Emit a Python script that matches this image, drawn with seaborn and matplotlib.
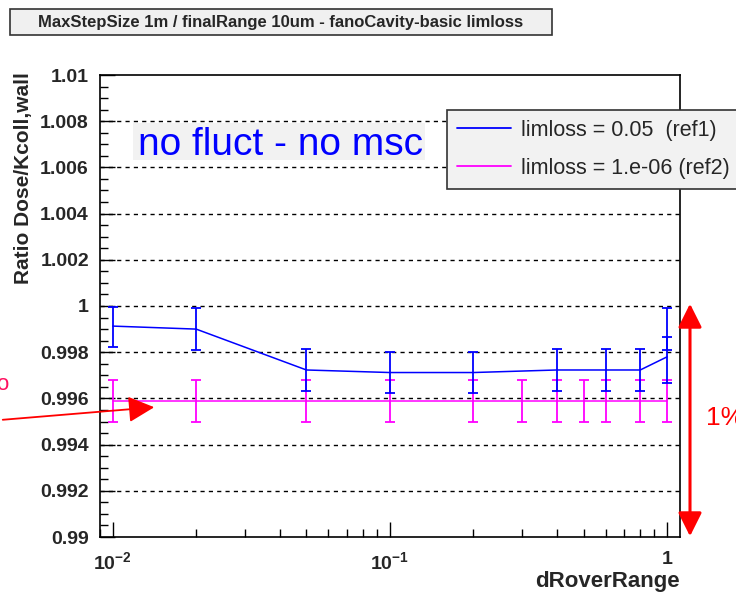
import numpy as np
import pandas as pd
import matplotlib
matplotlib.use("Agg")
import matplotlib.pyplot as plt
import seaborn as sns
from matplotlib.patches import FancyArrowPatch, Rectangle
from matplotlib.ticker import FixedLocator, MultipleLocator, NullFormatter, LogLocator

# ---- data ----
blue_x = [0.01, 0.02, 0.05, 0.1, 0.2, 0.4, 0.6, 0.8, 1.0]
blue_y = [0.99913, 0.99900, 0.99723, 0.99712, 0.99712, 0.99723, 0.99723, 0.99723, 0.99780]
blue_bar_x = [0.01, 0.02, 0.05, 0.1, 0.2, 0.4, 0.6, 0.8, 1.0, 1.0]
blue_bar_y = [0.99910, 0.99900, 0.99723, 0.99712, 0.99712, 0.99723, 0.99723, 0.99723, 0.99829, 0.99838]
blue_bar_e = [0.00087, 0.00091, 0.00090, 0.00090, 0.00090, 0.00090, 0.00090, 0.00090, 0.00162, 0.00028]

mag_x = [0.01, 0.02, 0.05, 0.1, 0.2, 0.3, 0.4, 0.5, 0.6, 0.8, 1.0]
mag_y = [0.99589] * 11
mag_e = [0.00091] * 11

series_labels = ["limloss = 0.05  (ref1)", "limloss = 1.e-06 (ref2)"]
y_ticks = [0.99, 0.992, 0.994, 0.996, 0.998, 1.0, 1.002, 1.004, 1.006, 1.008, 1.01]
y_ticklabels = ["0.99", "0.992", "0.994", "0.996", "0.998", "1", "1.002", "1.004", "1.006", "1.008", "1.01"]
x_ticks = [0.01, 0.1, 1.0]
x_ticklabels = [r"$\mathbf{10^{-2}}$", r"$\mathbf{10^{-1}}$", r"$\mathbf{1}$"]

title = "MaxStepSize 1m / finalRange 10um - fanoCavity-basic limloss"
BLUE = "#0000ff"
MAG = "#ff00ff"
RED = "#ff0000"

sns.set_style("white")
plt.rcParams["font.family"] = ["Liberation Sans", "DejaVu Sans"]
plt.rcParams["mathtext.fontset"] = "custom"
plt.rcParams["mathtext.bf"] = "Liberation Sans:bold"
plt.rcParams["mathtext.rm"] = "Liberation Sans"

W, H = 736, 593
fig = plt.figure(figsize=(W/100, H/100), dpi=100)
ax = fig.add_axes([100/W, 1-537/H, 580/W, 462/H])

df = pd.concat([
    pd.DataFrame({"x": blue_x, "y": blue_y, "series": series_labels[0]}),
    pd.DataFrame({"x": mag_x, "y": mag_y, "series": series_labels[1]}),
])
sns.lineplot(data=df, x="x", y="y", hue="series", palette=[BLUE, MAG],
             estimator=None, sort=False, linewidth=1.1, ax=ax, legend=True)

ax.errorbar(blue_bar_x, blue_bar_y, yerr=blue_bar_e, fmt="none", ecolor=BLUE,
            elinewidth=1.3, capsize=3.5, capthick=1.3, zorder=4)
ax.errorbar(mag_x, mag_y, yerr=mag_e, fmt="none", ecolor=MAG,
            elinewidth=1.3, capsize=3.5, capthick=1.3, zorder=3)

ax.set_xscale("log")
ax.set_xlim(0.0090, 1.113)
ax.set_ylim(0.99, 1.01)

ax.yaxis.set_major_locator(FixedLocator(y_ticks))
ax.set_yticklabels(y_ticklabels, fontsize=14, fontweight="bold")
ax.yaxis.set_minor_locator(MultipleLocator(0.0005))
ax.xaxis.set_major_locator(FixedLocator(x_ticks))
ax.set_xticklabels(x_ticklabels, fontsize=14)
ax.xaxis.set_minor_locator(LogLocator(base=10, subs=np.arange(2, 10)))
ax.xaxis.set_minor_formatter(NullFormatter())

ax.tick_params(axis="y", which="major", direction="in", length=11, width=1, color="black",
               left=True, right=False, pad=8)
ax.tick_params(axis="x", which="major", direction="in", length=11, width=1, color="black",
               bottom=True, top=False, pad=10)
ax.tick_params(axis="both", which="minor", direction="in", length=6, width=1, color="black",
               left=True, bottom=True, right=False, top=False)

for s in ax.spines.values():
    s.set_color("black")
    s.set_linewidth(1.2)

ax.grid(False)
for yt in y_ticks[1:-1]:
    ax.axhline(yt, color="black", linestyle=(0, (3, 3)), linewidth=1.0, zorder=1)

ax.set_xlabel("dRoverRange", fontsize=16, fontweight="bold", loc="right")
ax.xaxis.set_label_coords(1.0, -(582-537)/462 - 0.0)
ax.xaxis.label.set_va("center")
ax.set_ylabel("Ratio Dose/Kcoll,wall", fontsize=15, fontweight="bold", loc="top")
ax.yaxis.set_label_coords(-(100-24)/580, 1.0 + 3/462)
ax.yaxis.label.set_va("center")

# legend
handles, labels = ax.get_legend_handles_labels()
leg = ax.legend(handles, labels, loc="upper left", bbox_to_anchor=(447/W, 1-110/H),
                bbox_transform=fig.transFigure, fontsize=15.5, frameon=True, fancybox=False,
                handlelength=2.5, borderpad=0.45, labelspacing=0.8, handletextpad=0.5,
                borderaxespad=0)
leg.get_frame().set_facecolor("#f2f2f2")
leg.get_frame().set_edgecolor("#333333")
leg.get_frame().set_linewidth(1.2)
leg.get_frame().set_alpha(1)
for lh in leg.get_lines():
    lh.set_linewidth(1.3)

# "no fluct - no msc" label
fig.patches.append(Rectangle((133/W, 1-160/H), (425-133)/W, (160-123)/H,
                             transform=fig.transFigure, facecolor="#f2f2f2", edgecolor="none", zorder=5))
fig.text(280/W, 1-145/H, "no fluct - no msc", color=BLUE, fontsize=28,
         ha="center", va="center", zorder=6)

# title box
fig.patches.append(Rectangle((10/W, 1-35/H), (552-10)/W, (35-9)/H,
                             transform=fig.transFigure, facecolor="#f0f0f0", edgecolor="#333333",
                             linewidth=1.2, zorder=5))
fig.text(281/W, 1-22/H, title, fontsize=12, fontweight="bold", ha="center", va="center", zorder=6)

# red annotations
fig.patches.append(FancyArrowPatch((0/W, 1-420/H), (157/W, 1-407/H),
                                   transform=fig.transFigure, arrowstyle="-|>,head_length=10,head_width=5",
                                   color=RED, linewidth=1.3, mutation_scale=1.6))
fig.patches.append(FancyArrowPatch((690/W, 1-301/H), (690/W, 1-539/H),
                                   transform=fig.transFigure, arrowstyle="<|-|>,head_length=9,head_width=4.5",
                                   color=RED, linewidth=2.2, mutation_scale=1.6))
fig.text(706/W, 1-418/H, "1%", color=RED, fontsize=19, ha="left", va="center")
fig.text(-4/W, 1-385/H, "o", color="#ff1060", fontsize=16, ha="left", va="center")

fig.savefig("out.png", dpi=100)
